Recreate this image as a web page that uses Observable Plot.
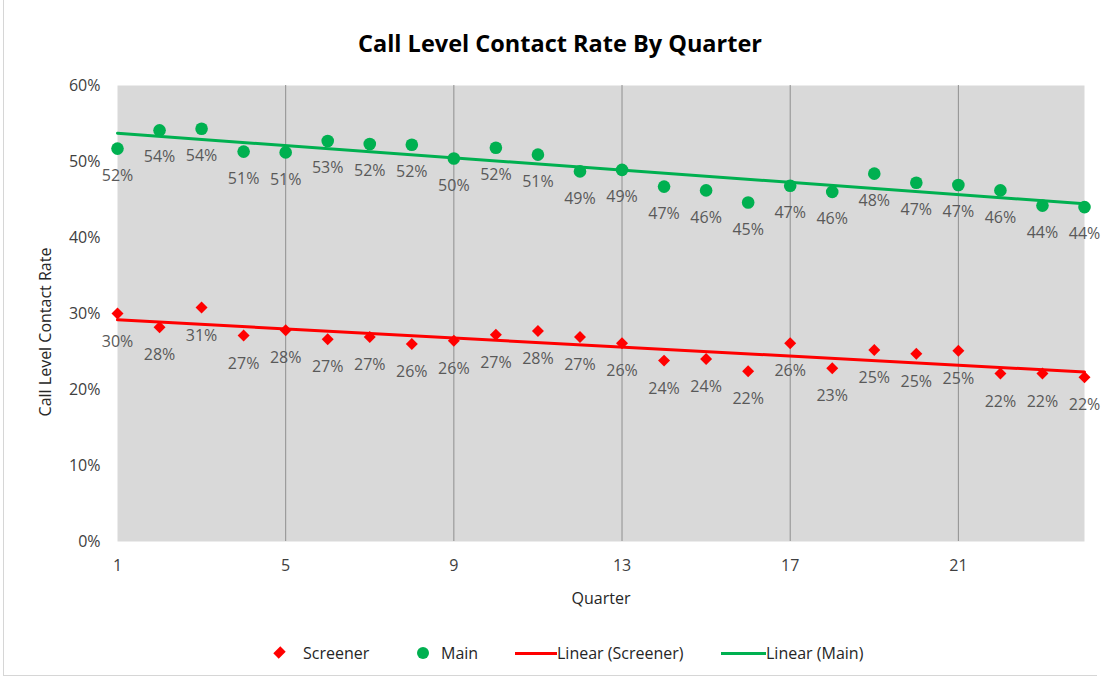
<!DOCTYPE html>
<html>
<head>
<meta charset="utf-8">
<script src="https://cdn.jsdelivr.net/npm/d3@7"></script>
<script src="https://cdn.jsdelivr.net/npm/@observablehq/plot@0.6"></script>
<style>
  body { margin: 0; background: #fff; font-family: "Open Sans", sans-serif; }
  #wrap { position: relative; width: 1103px; height: 683px; overflow: hidden; background: #fff; }
  #chart { position: absolute; left: 0; top: 0; }
  .abs { position: absolute; white-space: nowrap; }
  #title { left: 0; width: 1120px; top: 27px; text-align: center; font-weight: 700; font-size: 23.5px; color: #000; line-height: 32px; }
  #ylab { left: 45px; top: 332px; transform: translate(-50%, -50%) rotate(-90deg); font-size: 16px; color: #262626; }
  #xlab { left: 601px; top: 598px; transform: translate(-50%, -50%); font-size: 16px; color: #262626; }
  .leg { top: 653px; transform: translateY(-50%); font-size: 16px; color: #262626; line-height: 20px; }
  #border { left: 3px; top: -2px; width: 1094px; height: 678px; border-left: 1px solid #d6d6d6; border-bottom: 1px solid #d6d6d6; box-sizing: border-box; }
</style>
</head>
<body>
<div id="wrap">
  <div id="border" class="abs"></div>
  <div id="chart"></div>
  <div id="title" class="abs">Call Level Contact Rate By Quarter</div>
  <div id="ylab" class="abs">Call Level Contact Rate</div>
  <div id="xlab" class="abs">Quarter</div>
  <div id="legend"></div>
</div>
<script>
// ---- data ----
const quarters = [1,2,3,4,5,6,7,8,9,10,11,12,13,14,15,16,17,18,19,20,21,22,23,24];
const mainRates = [0.517,0.541,0.543,0.513,0.512,0.527,0.523,0.522,0.504,0.518,0.509,0.487,
                   0.489,0.467,0.462,0.446,0.468,0.460,0.484,0.472,0.469,0.462,0.442,0.440];
const screenerRates = [0.300,0.282,0.308,0.271,0.278,0.266,0.269,0.260,0.264,0.272,0.277,0.269,
                       0.261,0.238,0.240,0.224,0.261,0.228,0.252,0.247,0.251,0.221,0.221,0.216];
const xTicks = [1,5,9,13,17,21];
const gridQuarters = [5,9,13,17,21];
const yTicks = [0,0.1,0.2,0.3,0.4,0.5,0.6];
const seriesNames = ["Screener","Main","Linear (Screener)","Linear (Main)"];
const colors = { Screener: "#ff0000", Main: "#00b050" };

const mainData = quarters.map((q,i) => ({q, v: mainRates[i]}));
const screenerData = quarters.map((q,i) => ({q, v: screenerRates[i]}));
const pct = d3.format(".0%");

const plot = Plot.plot({
  width: 1103,
  height: 683,
  marginLeft: 117,
  marginRight: 19,
  marginTop: 85,
  marginBottom: 142,
  style: { fontFamily: "Open Sans, sans-serif", fontSize: "16px", color: "#404040", background: "transparent" },
  x: { domain: [1, 24] },
  y: { domain: [0, 0.6] },
  marks: [
    Plot.frame({ fill: "#d9d9d9", stroke: "none" }),
    Plot.ruleX(gridQuarters, { stroke: "#8f8f8f", strokeWidth: 1 }),
    Plot.axisX({ ticks: xTicks, tickSize: 0, tickPadding: 18, label: null, tickFormat: d => String(d), fill: "#404040" }),
    Plot.axisY({ ticks: yTicks, tickSize: 0, tickPadding: 17, label: null, tickFormat: pct, fill: "#404040" }),
    Plot.linearRegressionY(screenerData, { x: "q", y: "v", stroke: colors.Screener, strokeWidth: 3, ci: 0 }),
    Plot.linearRegressionY(mainData, { x: "q", y: "v", stroke: colors.Main, strokeWidth: 3, ci: 0 }),
    Plot.dot(screenerData, { x: "q", y: "v", symbol: "diamond2", r: 5.4, fill: colors.Screener, stroke: "none" }),
    Plot.dot(mainData, { x: "q", y: "v", r: 6.3, fill: colors.Main, stroke: "none" }),
    Plot.text(screenerData, { x: "q", y: "v", text: d => pct(d.v), dy: 28, fill: "#595959", fontSize: 16 }),
    Plot.text(mainData, { x: "q", y: "v", text: d => pct(d.v), dy: 27, fill: "#595959", fontSize: 16 })
  ]
});
document.getElementById("chart").appendChild(plot);

// ---- legend ----
const legend = document.getElementById("legend");
function add(html) { legend.insertAdjacentHTML("beforeend", html); }
// Screener diamond
add(`<div class="abs" style="left:275px;top:648px;width:9px;height:9px;background:${colors.Screener};transform:rotate(45deg) scale(0.85,1.1);"></div>`);
add(`<div class="abs leg" style="left:303px;">${seriesNames[0]}</div>`);
// Main circle
add(`<div class="abs" style="left:417px;top:647px;width:12px;height:12px;border-radius:50%;background:${colors.Main};"></div>`);
add(`<div class="abs leg" style="left:441px;">${seriesNames[1]}</div>`);
// Linear (Screener)
add(`<div class="abs" style="left:515px;top:652px;width:42px;height:3px;background:${colors.Screener};"></div>`);
add(`<div class="abs leg" style="left:557px;">${seriesNames[2]}</div>`);
// Linear (Main)
add(`<div class="abs" style="left:721px;top:652px;width:45px;height:3px;background:${colors.Main};"></div>`);
add(`<div class="abs leg" style="left:766px;">${seriesNames[3]}</div>`);
</script>
</body>
</html>
